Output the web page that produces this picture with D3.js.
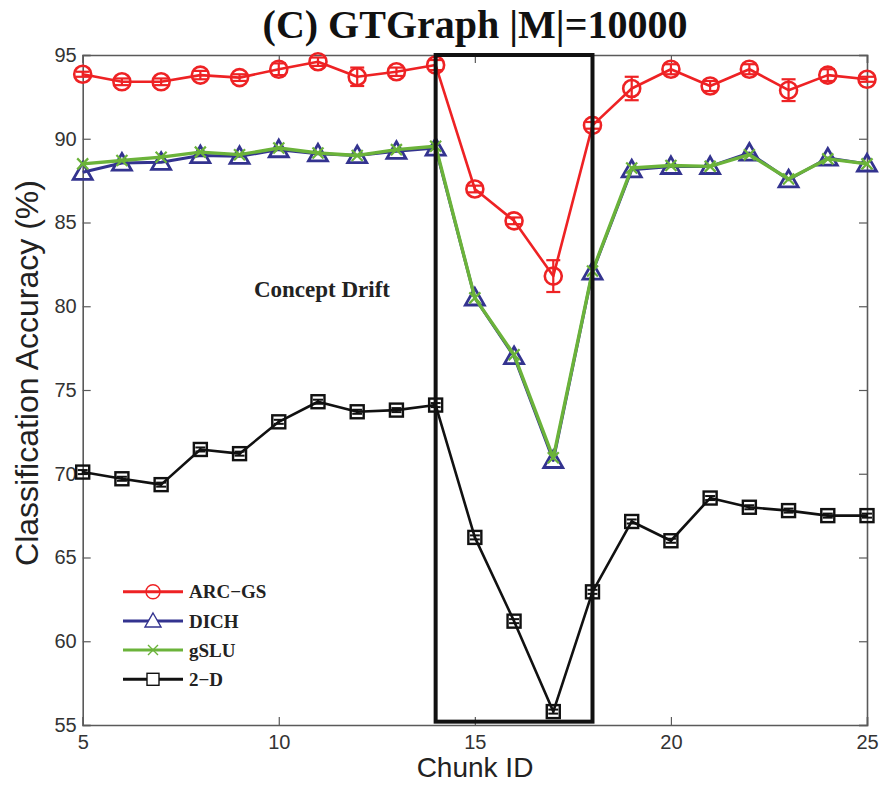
<!DOCTYPE html>
<html>
<head>
<meta charset="utf-8">
<script src="https://cdn.jsdelivr.net/npm/d3@7/dist/d3.min.js"></script>
<style>
  html, body { margin: 0; padding: 0; background: #fff; }
  svg { display: block; }
</style>
</head>
<body>
<svg id="chart" width="879" height="786"></svg>
<script>
// Chunk IDs along the stream
const chunkIds = [5, 6, 7, 8, 9, 10, 11, 12, 13, 14, 15, 16, 17, 18, 19, 20, 21, 22, 23, 24, 25];

// Classification accuracy (%) per method
const arcGS    = [93.85, 93.4, 93.4, 93.8, 93.65, 94.15, 94.6, 93.7, 94.0, 94.4, 87.0, 85.1, 81.8, 90.8, 93.0, 94.15, 93.15, 94.15, 92.9, 93.8, 93.55];
const arcGSErr = [0.15, 0.2, 0.2, 0.25, 0.2, 0.35, 0.25, 0.55, 0.25, 0.3, 0.2, 0.2, 0.95, 0.2, 0.7, 0.3, 0.3, 0.3, 0.65, 0.35, 0.15];
const dich     = [88.0, 88.55, 88.6, 89.0, 88.95, 89.35, 89.1, 89.0, 89.25, 89.45, 80.5, 77.0, 70.8, 82.05, 88.15, 88.35, 88.35, 89.15, 87.55, 88.85, 88.5];
const gslu     = [88.5, 88.7, 88.9, 89.2, 89.05, 89.45, 89.15, 89.0, 89.35, 89.55, 80.5, 77.1, 70.95, 82.1, 88.25, 88.4, 88.35, 89.05, 87.6, 88.8, 88.5];
const twoD     = [70.1, 69.7, 69.35, 71.45, 71.2, 73.1, 74.3, 73.7, 73.8, 74.1, 66.2, 61.2, 55.8, 62.95, 67.15, 66.0, 68.55, 68.0, 67.8, 67.5, 67.5];
const twoDErr  = [0.12, 0.12, 0.12, 0.12, 0.12, 0.12, 0.12, 0.12, 0.12, 0.12, 0.12, 0.12, 0.12, 0.12, 0.12, 0.12, 0.12, 0.12, 0.12, 0.12, 0.12];

// Axis ticks
const xTicks = [5, 10, 15, 20, 25];
const yTicks = [55, 60, 65, 70, 75, 80, 85, 90, 95];

// Concept-drift window
const driftWindow = [14, 18];
const driftRange = [55.2, 95];

const seriesNames = ["ARC\u2212GS", "DICH", "gSLU", "2\u2212D"];
const seriesColors = ["#ee2224", "#33338f", "#6bb33a", "#111111"];

const svg = d3.select("#chart");
const x = d3.scaleLinear().domain([5, 25]).range([82.7, 867]);
const y = d3.scaleLinear().domain([55, 95]).range([725, 55]);

const axisColor = "#5a5a5a";
const tickFont = "'Liberation Sans', Arial, Helvetica, sans-serif";
const serif = "'Liberation Serif', 'Times New Roman', Times, serif";

// Axes with inward ticks on all four sides
const gx = svg.append("g").attr("transform", `translate(0,${y(55)})`)
  .call(d3.axisBottom(x).tickValues(xTicks).tickSize(-8).tickPadding(10).tickFormat(d3.format("d")));
const gxTop = svg.append("g").attr("transform", `translate(0,${y(95)})`)
  .call(d3.axisTop(x).tickValues(xTicks).tickSize(-8).tickFormat(""));
const gy = svg.append("g").attr("transform", `translate(${x(5)},0)`)
  .call(d3.axisLeft(y).tickValues(yTicks).tickSize(-8).tickPadding(6).tickFormat(d3.format("d")));
const gyRight = svg.append("g").attr("transform", `translate(${x(25)},0)`)
  .call(d3.axisRight(y).tickValues(yTicks).tickSize(-8).tickFormat(""));

[gx, gxTop, gy, gyRight].forEach(g => {
  g.select(".domain").attr("stroke", axisColor).attr("stroke-width", 1.6);
  g.selectAll(".tick line").attr("stroke", axisColor).attr("stroke-width", 1.2);
  g.selectAll(".tick text").attr("fill", "#333").attr("font-family", tickFont).attr("font-size", 20);
});

// Series drawing helpers
const line = d3.line().x((d, i) => x(chunkIds[i])).y(d => y(d));

function drawLine(values, color, width) {
  svg.append("path").datum(values)
    .attr("fill", "none").attr("stroke", color).attr("stroke-width", width)
    .attr("stroke-linejoin", "round").attr("d", line);
}

function drawErrorBars(values, errs, color, width, capHalf) {
  const g = svg.append("g").attr("stroke", color).attr("stroke-width", width);
  values.forEach((v, i) => {
    const cx = x(chunkIds[i]);
    const y1 = y(v + errs[i]), y2 = y(v - errs[i]);
    g.append("line").attr("x1", cx).attr("x2", cx).attr("y1", y1).attr("y2", y2);
    g.append("line").attr("x1", cx - capHalf).attr("x2", cx + capHalf).attr("y1", y1).attr("y2", y1);
    g.append("line").attr("x1", cx - capHalf).attr("x2", cx + capHalf).attr("y1", y2).attr("y2", y2);
  });
}

function marker(g, type, cx, cy, color) {
  if (type === "circle") {
    g.append("circle").attr("cx", cx).attr("cy", cy).attr("r", 8.5)
      .attr("fill", "none").attr("stroke", color).attr("stroke-width", 2.6);
  } else if (type === "triangle") {
    const s = 9.5;
    g.append("path").attr("d", `M${cx},${cy - s}L${cx + s},${cy + s * 0.75}L${cx - s},${cy + s * 0.75}Z`)
      .attr("fill", "none").attr("stroke", color).attr("stroke-width", 2.8);
  } else if (type === "cross") {
    const s = 5.5;
    g.append("path").attr("d", `M${cx - s},${cy - s}L${cx + s},${cy + s}M${cx - s},${cy + s}L${cx + s},${cy - s}`)
      .attr("fill", "none").attr("stroke", color).attr("stroke-width", 2.2);
  } else if (type === "square") {
    const s = 6.5;
    g.append("rect").attr("x", cx - s).attr("y", cy - s).attr("width", 2 * s).attr("height", 2 * s)
      .attr("fill", "none").attr("stroke", color).attr("stroke-width", 2.4);
  }
}

function drawMarkers(values, type, color) {
  const g = svg.append("g");
  values.forEach((v, i) => marker(g, type, x(chunkIds[i]), y(v), color));
}

// ARC-GS
drawLine(arcGS, seriesColors[0], 2.6);
drawErrorBars(arcGS, arcGSErr, seriesColors[0], 2.2, 7);
drawMarkers(arcGS, "circle", seriesColors[0]);

// DICH
drawLine(dich, seriesColors[1], 3);
drawMarkers(dich, "triangle", seriesColors[1]);

// gSLU
drawLine(gslu, seriesColors[2], 3.4);
drawMarkers(gslu, "cross", seriesColors[2]);

// 2-D
drawLine(twoD, seriesColors[3], 2.6);
drawErrorBars(twoD, twoDErr, seriesColors[3], 2, 5);
drawMarkers(twoD, "square", seriesColors[3]);

// Concept-drift window
svg.append("rect")
  .attr("x", x(driftWindow[0])).attr("y", y(driftRange[1]))
  .attr("width", x(driftWindow[1]) - x(driftWindow[0]))
  .attr("height", y(driftRange[0]) - y(driftRange[1]))
  .attr("fill", "none").attr("stroke", "#111").attr("stroke-width", 4);

svg.append("text").attr("x", 322).attr("y", 297)
  .attr("text-anchor", "middle").attr("font-family", serif).attr("font-weight", "bold")
  .attr("font-size", 23).attr("fill", "#222").text("Concept Drift");

// Legend
const legendTypes = ["circle", "triangle", "cross", "square"];
const legendRows = [591.7, 621, 650, 679.3];
seriesNames.forEach((name, i) => {
  const g = svg.append("g");
  const ly = legendRows[i];
  g.append("line").attr("x1", 123).attr("x2", 183).attr("y1", ly).attr("y2", ly)
    .attr("stroke", seriesColors[i]).attr("stroke-width", 3);
  const mg = g.append("g");
  if (legendTypes[i] === "circle") {
    mg.append("circle").attr("cx", 153).attr("cy", ly).attr("r", 7)
      .attr("fill", "none").attr("stroke", seriesColors[i]).attr("stroke-width", 1.4);
  } else if (legendTypes[i] === "triangle") {
    const s = 8;
    mg.append("path").attr("d", `M153,${ly - s}L${153 + s},${ly + s * 0.75}L${153 - s},${ly + s * 0.75}Z`)
      .attr("fill", "#fff").attr("stroke", seriesColors[i]).attr("stroke-width", 1.4);
  } else if (legendTypes[i] === "cross") {
    const s = 5;
    mg.append("path").attr("d", `M${153 - s},${ly - s}L${153 + s},${ly + s}M${153 - s},${ly + s}L${153 + s},${ly - s}`)
      .attr("stroke", seriesColors[i]).attr("stroke-width", 1.4);
  } else {
    mg.append("rect").attr("x", 147).attr("y", ly - 6).attr("width", 12).attr("height", 12)
      .attr("fill", "#fff").attr("stroke", seriesColors[i]).attr("stroke-width", 1.4);
  }
  g.append("text").attr("x", 189).attr("y", ly + 6.5)
    .attr("font-family", serif).attr("font-weight", "bold").attr("font-size", 19)
    .attr("fill", "#222").text(name);
});

// Title and axis titles
svg.append("text").attr("x", 475).attr("y", 38).attr("text-anchor", "middle")
  .attr("font-family", serif).attr("font-weight", "bold").attr("font-size", 40)
  .attr("fill", "#111").text("(C) GTGraph |M|=10000");

svg.append("text").attr("x", 475).attr("y", 777).attr("text-anchor", "middle")
  .attr("font-family", tickFont).attr("font-size", 28).attr("fill", "#222").text("Chunk ID");

svg.append("text").attr("transform", "translate(38,373) rotate(-90)").attr("text-anchor", "middle")
  .attr("font-family", tickFont).attr("font-size", 32).attr("fill", "#222").text("Classification Accuracy (%)");
</script>
</body>
</html>
